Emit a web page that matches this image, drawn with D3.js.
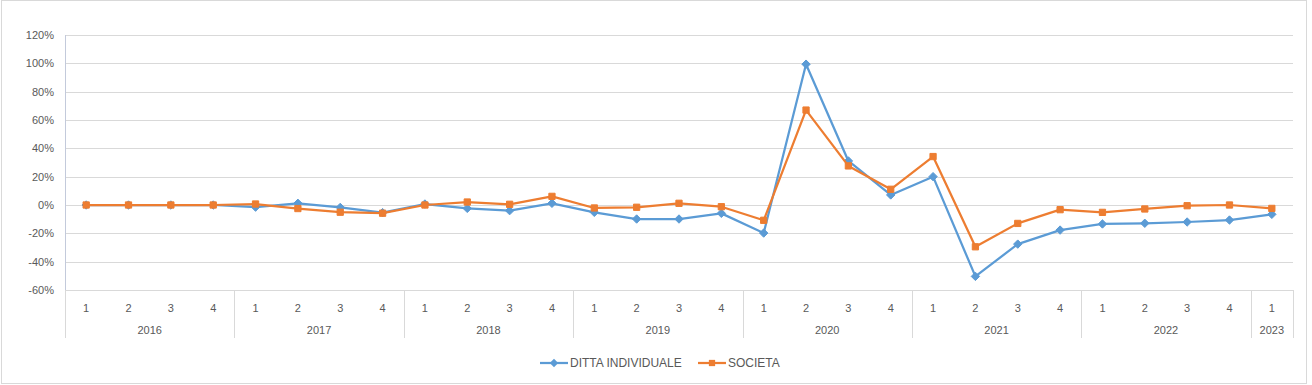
<!DOCTYPE html>
<html>
<head>
<meta charset="utf-8">
<script src="https://cdn.jsdelivr.net/npm/d3@7"></script>
<style>
  body { margin: 0; background: #fff; }
  text { font-family: "Liberation Sans", "DejaVu Sans", sans-serif; fill: #595959; }
</style>
</head>
<body>
<div id="chart"></div>
<script>
/* Quarterly % change: ditta individuale vs societa */

const years = ["2016", "2017", "2018", "2019", "2020", "2021", "2022", "2023"];
const quarters = [4, 4, 4, 4, 4, 4, 4, 1]; // quarters shown per year
const ditta = [0, 0, 0, 0, -1.5, 1.2, -1.7, -5.4, 0.7, -2.4, -4, 1.2, -5.2, -9.9, -9.9, -5.9,
               -19.8, 99.4, 31.1, 7.1, 20, -50.4, -27.6, -17.7, -13.4, -12.9, -12, -10.6, -6.6];
const societa = [0, 0, 0, 0, 0.7, -2.5, -5.1, -5.8, 0, 2.1, 0.5, 6.1, -2.1, -1.6, 1.2, -1.2,
                 -10.8, 67, 27.6, 11.1, 34.2, -29.5, -13, -3.3, -5.2, -2.8, -0.5, 0, -2.4];
const yTicks = [-60, -40, -20, 0, 20, 40, 60, 80, 100, 120];

const width = 1312, height = 385,
      margin = ({top: 35, right: 19, bottom: 95, left: 65});

// build category list (year + quarter)
let cats = [];
years.forEach((y, i) => {
    for (let q = 1; q <= quarters[i]; q++) cats.push({year: y, q: q, key: y + "-" + q});
});

let svg = d3.select("#chart")
    .append("svg")
    .attr("width", width)
    .attr("height", height);

// outer frame
svg.append("rect")
    .attr("x", 1.5).attr("y", 0.5)
    .attr("width", 1305).attr("height", 383)
    .attr("fill", "#fff")
    .attr("stroke", "#d9d9d9");

let x = d3.scaleBand()
    .domain(cats.map(d => d.key))
    .range([margin.left, width - margin.right]);

let y = d3.scaleLinear()
    .domain([-60, 120])
    .range([height - margin.bottom, margin.top]);

// gridlines
svg.append("g")
    .selectAll("line")
    .data(yTicks)
    .join("line")
    .attr("x1", margin.left).attr("x2", width - margin.right)
    .attr("y1", d => Math.round(y(d)) + 0.5).attr("y2", d => Math.round(y(d)) + 0.5)
    .attr("stroke", "#d9d9d9");

// y axis labels
svg.append("g")
    .selectAll("text")
    .data(yTicks)
    .join("text")
    .attr("x", 54)
    .attr("y", d => y(d) + 4)
    .attr("text-anchor", "end")
    .attr("font-size", 11)
    .text(d => d + "%");

// vertical axis line
svg.append("line")
    .attr("x1", margin.left + 0.5).attr("x2", margin.left + 0.5)
    .attr("y1", y(120)).attr("y2", y(-60))
    .attr("stroke", "#c3cadb");

// category axis: quarter labels
svg.append("g")
    .selectAll("text")
    .data(cats)
    .join("text")
    .attr("x", d => x(d.key) + x.bandwidth() / 2)
    .attr("y", 312)
    .attr("text-anchor", "middle")
    .attr("font-size", 11)
    .text(d => d.q);

// year groups
let starts = [];
let idx = 0;
years.forEach((yr, i) => { starts.push({year: yr, from: idx, n: quarters[i]}); idx += quarters[i]; });

svg.append("g")
    .selectAll("text")
    .data(starts)
    .join("text")
    .attr("x", d => x(cats[d.from].key) + d.n * x.bandwidth() / 2)
    .attr("y", 334)
    .attr("text-anchor", "middle")
    .attr("font-size", 11)
    .text(d => d.year);

let seps = starts.map(d => x(cats[d.from].key)).concat([width - margin.right]);
svg.append("g")
    .selectAll("line")
    .data(seps)
    .join("line")
    .attr("x1", d => Math.round(d) + 0.5).attr("x2", d => Math.round(d) + 0.5)
    .attr("y1", y(-60)).attr("y2", 338)
    .attr("stroke", "#d9d9d9");

// series
const cx = (d, i) => x(cats[i].key) + x.bandwidth() / 2;
const line = d3.line().x(cx).y(d => y(d));

const series = [
    {name: "DITTA INDIVIDUALE", values: ditta, color: "#5b9bd5", shape: d3.symbolDiamond2, size: 45},
    {name: "SOCIETA", values: societa, color: "#ed7d31", shape: d3.symbolSquare2, size: 50}
];

series.forEach(s => {
    svg.append("path")
        .datum(s.values)
        .attr("fill", "none")
        .attr("stroke", s.color)
        .attr("stroke-width", 2.25)
        .attr("stroke-linejoin", "round")
        .attr("d", line);

    svg.append("g")
        .selectAll("path")
        .data(s.values)
        .join("path")
        .attr("transform", (d, i) => `translate(${cx(d, i)},${y(d)})`)
        .attr("d", d3.symbol().type(s.shape).size(s.size))
        .attr("fill", s.color)
        .attr("stroke", s.color);
});

// legend
const legendX = [540, 698];
let leg = svg.append("g")
    .selectAll("g")
    .data(series)
    .join("g")
    .attr("transform", (d, i) => `translate(${legendX[i]},363)`);

leg.append("line")
    .attr("x1", 0).attr("x2", 28)
    .attr("stroke", d => d.color)
    .attr("stroke-width", 2.25);

leg.append("path")
    .attr("transform", "translate(14,0)")
    .attr("d", d => d3.symbol().type(d.shape).size(d.size)())
    .attr("fill", d => d.color);

leg.append("text")
    .attr("x", 30)
    .attr("y", 4)
    .attr("font-size", 12)
    .text(d => d.name);
</script>
</body>
</html>
